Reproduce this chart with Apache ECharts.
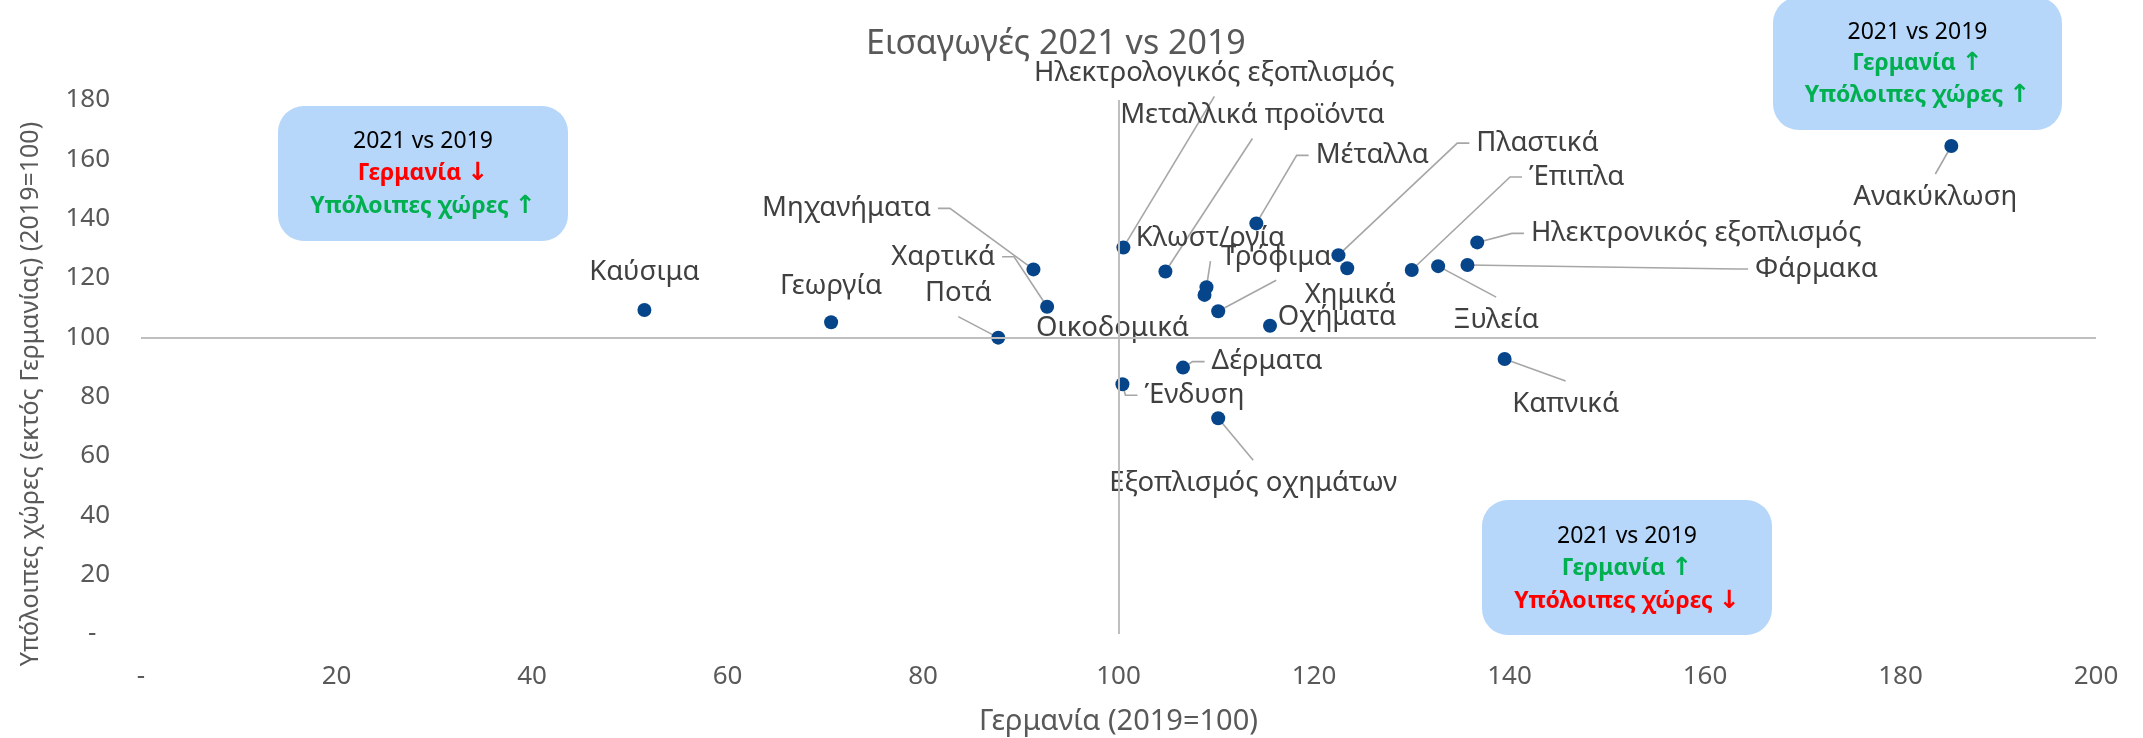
<!DOCTYPE html>
<html>
<head>
<meta charset="utf-8">
<title>Εισαγωγές 2021 vs 2019</title>
<script src="https://cdn.jsdelivr.net/npm/echarts@6/dist/echarts.min.js"></script>
<style>
  html, body { margin: 0; padding: 0; background: #fff; }
  #chart { width: 2143px; height: 738px; }
</style>
</head>
<body>
<div id="chart"></div>
<script>
// κατηγορίες προϊόντων
const categories = [
  "Καύσιμα", "Γεωργία", "Ποτά", "Μηχανήματα", "Χαρτικά", "Οικοδομικά",
  "Ηλεκτρολογικός εξοπλισμός", "Μεταλλικά προϊόντα", "Κλωστ/ργία", "Τρόφιμα",
  "Μέταλλα", "Οχήματα", "Πλαστικά", "Χημικά", "Έπιπλα", "Ξυλεία", "Φάρμακα",
  "Ηλεκτρονικός εξοπλισμός", "Ανακύκλωση", "Καπνικά", "Δέρματα", "Ένδυση",
  "Εξοπλισμός οχημάτων"
];
// Γερμανία (2019=100)
const germany = [
  51.5, 70.6, 87.7, 91.3, 92.7, 108.8,
  100.5, 104.8, 109.0, 110.2,
  114.1, 115.5, 122.5, 123.4, 130.0, 132.7, 135.7,
  136.7, 185.2, 139.5, 106.6, 100.4,
  110.2
];
// Υπόλοιπες χώρες (2019=100)
const otherCountries = [
  109.2, 105.1, 99.9, 122.9, 110.3, 114.3,
  130.3, 122.2, 116.9, 108.8,
  138.4, 103.9, 127.7, 123.3, 122.7, 124.0, 124.4,
  132.0, 164.5, 92.7, 89.8, 84.2,
  72.7
];
const zeroTickLabel = "-";
const boxHeader = "2021 vs 2019";

// θέση ετικέτας (px) σχετικά με το σημείο
const labelOffsets = [
  [0, -38], [0, -36], [-40, -44], [-187, -61], [-104, -50], [-92, 33],
  [91, -174], [87, -156], [4, -49], [58, -54],
  [116, -68], [67, -9], [199, -112], [3, 27], [165, -93], [58, 54], [349, 4],
  [219, -9], [-16, 51], [61, 45], [84, -6], [72, 11],
  [35, 65]
];
// πλευρά της ετικέτας όπου δένει η γραμμή οδηγός ("" = χωρίς γραμμή)
const leaderSides = [
  "", "", "B", "R", "R", "",
  "B", "B", "B", "B",
  "L", "", "L", "", "L", "T", "L",
  "L", "T", "T", "L", "L",
  "T"
];

const FONT = "'Noto Sans', 'Open Sans', sans-serif";
const LABEL_SIZE = 27.5;
const green = "#00b050";
const red = "#ff0000";

// πλάτος κειμένου ετικέτας, για να ξέρουμε πού ξεκινά η γραμμή
const measureCtx = document.createElement("canvas").getContext("2d");
measureCtx.font = LABEL_SIZE + "px " + FONT;
const labelWidths = categories.map(c => measureCtx.measureText(c).width);

const chart = echarts.init(document.getElementById("chart"));

const points = categories.map((name, i) => ({
  name: name,
  value: [germany[i], otherCountries[i]]
}));

// πλαίσιο σχολίου με στρογγυλεμένες γωνίες
function noteBox(x, y, w, h, lineYs, lines) {
  const children = [{
    type: "rect",
    shape: { x: x, y: y, width: w, height: h, r: 26 },
    style: { fill: "#b6d7f9" }
  }];
  lines.forEach((l, i) => {
    const txt = l[2] ? "{t|" + l[0] + " }{a|" + l[2] + "}" : "{h|" + l[0] + "}";
    children.push({
      type: "text",
      x: x + w / 2,
      y: lineYs[i],
      style: {
        text: txt,
        align: "center",
        verticalAlign: "middle",
        rich: {
          h: { fontFamily: FONT, fontSize: 23, fill: l[1] },
          t: { fontFamily: FONT, fontSize: 23, fontWeight: "bold", fill: l[1] },
          a: { fontFamily: "'DejaVu Sans', sans-serif", fontSize: 25, fontWeight: "bold", fill: l[1] }
        }
      }
    });
  });
  return { type: "group", silent: true, children: children };
}

const option = {
  animation: false,
  backgroundColor: "#fff",
  textStyle: { fontFamily: FONT },
  title: {
    text: "Εισαγωγές 2021 vs 2019",
    left: 861,
    top: 22,
    textStyle: { fontFamily: FONT, fontSize: 34, fontWeight: "normal", color: "#595959" }
  },
  grid: { left: 141, right: 47, top: 100, bottom: 104, outerBoundsMode: "none" },
  xAxis: {
    type: "value",
    min: 0,
    max: 200,
    interval: 20,
    name: "Γερμανία (2019=100)",
    nameLocation: "middle",
    nameGap: 73,
    nameTextStyle: { fontFamily: FONT, fontSize: 29, color: "#595959" },
    axisLine: { show: false },
    axisTick: { show: false },
    splitLine: { show: false },
    axisLabel: {
      margin: 30,
      fontSize: 26,
      color: "#595959",
      formatter: v => (v === 0 ? zeroTickLabel : v)
    }
  },
  yAxis: {
    type: "value",
    min: 0,
    max: 180,
    interval: 20,
    axisLine: { show: false },
    axisTick: { show: false },
    splitLine: { show: false },
    axisLabel: {
      margin: 31,
      fontSize: 26,
      color: "#595959",
      formatter: v => (v === 0 ? zeroTickLabel + "  " : v)
    }
  },
  series: [
    {
      // γραμμές οδηγοί από το σημείο στην ετικέτα
      type: "custom",
      silent: true,
      z: 2,
      data: categories.map((c, i) => [germany[i], otherCountries[i]]),
      renderItem: function (params, api) {
        const i = params.dataIndex;
        const side = leaderSides[i];
        if (!side) return null;
        const p = api.coord([api.value(0), api.value(1)]);
        const lx = p[0] + labelOffsets[i][0];
        const ly = p[1] + labelOffsets[i][1];
        const w = labelWidths[i];
        let pts;
        if (side === "L") {
          const ex = lx - w / 2 - 7;
          pts = [p, [ex - 12, ly], [ex, ly]];
        } else if (side === "R") {
          const ex = lx + w / 2 + 7;
          pts = [p, [ex + 12, ly], [ex, ly]];
        } else if (side === "T") {
          pts = [p, [lx, ly - 23]];
        } else {
          pts = [p, [lx, ly + 23]];
        }
        return {
          type: "polyline",
          shape: { points: pts },
          style: { stroke: "#a6a6a6", lineWidth: 1.6, fill: null }
        };
      }
    },
    {
      type: "scatter",
      symbolSize: 14,
      itemStyle: { color: "#06458a", opacity: 1 },
      data: points,
      label: {
        show: true,
        formatter: "{b}",
        fontFamily: FONT,
        fontSize: LABEL_SIZE,
        color: "#404040"
      },
      labelLayout: function (p) {
        const off = labelOffsets[p.dataIndex];
        return {
          x: p.rect.x + p.rect.width / 2 + off[0],
          y: p.rect.y + p.rect.height / 2 + off[1],
          align: "center",
          verticalAlign: "middle"
        };
      },
      markLine: {
        silent: true,
        symbol: "none",
        label: { show: false },
        lineStyle: { color: "#bfbfbf", width: 2, type: "solid" },
        data: [{ xAxis: 100 }, { yAxis: 100 }]
      },
      z: 3
    }
  ],
  graphic: [
    {
      type: "text",
      x: 31,
      y: 394,
      rotation: Math.PI / 2,
      silent: true,
      style: {
        text: "Υπόλοιπες χώρες (εκτός Γερμανίας) (2019=100)",
        fontFamily: FONT,
        fontSize: 25,
        fill: "#595959",
        align: "center",
        verticalAlign: "middle"
      }
    },
    noteBox(278, 106, 290, 135, [141, 173, 206], [
      [boxHeader, "#000"],
      ["Γερμανία", red, "↓"],
      ["Υπόλοιπες χώρες", green, "↑"]
    ]),
    noteBox(1773, -3, 289, 133, [32, 63, 95], [
      [boxHeader, "#000"],
      ["Γερμανία", green, "↑"],
      ["Υπόλοιπες χώρες", green, "↑"]
    ]),
    noteBox(1482, 500, 290, 135, [536, 568, 601], [
      [boxHeader, "#000"],
      ["Γερμανία", green, "↑"],
      ["Υπόλοιπες χώρες", red, "↓"]
    ])
  ]
};

chart.setOption(option);
</script>
</body>
</html>
